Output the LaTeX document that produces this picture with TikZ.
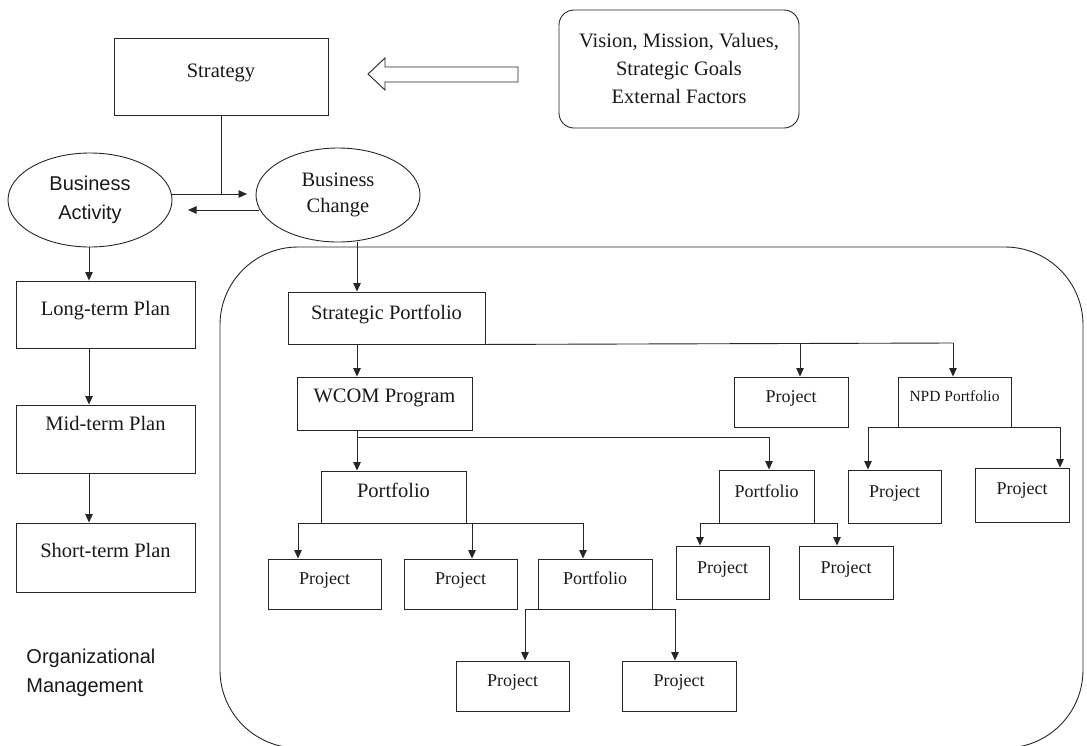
\documentclass[tikz,border=0pt]{standalone}
\usepackage{fontspec}
\setmainfont{Liberation Serif}
\newfontfamily\sansf{Liberation Sans}
\usetikzlibrary{arrows.meta,shapes.geometric,calc}
\newcommand\mkbox[8]{%
  \node[box, minimum width={#4-#2}, minimum height={#5-#3}] (#1) at ({(#2+#4)/2},{(#3+#5)/2}) {};
  \node[#7, anchor=base] (#1-t) at ({(#2+#4)/2},#6) {#8};}
\begin{document}
\begin{tikzpicture}[x=1pt,y=-1pt, line width=0.9pt, draw=black!85,
  box/.style={draw=black!85, rectangle, inner sep=0pt},
  txt/.style={inner sep=0pt, text=black!90, font=\fontsize{20.5}{24}\selectfont},
  ptxt/.style={inner sep=0pt, text=black!90, font=\fontsize{18}{22}\selectfont},
  ntxt/.style={inner sep=0pt, text=black!90, font=\fontsize{15.5}{18}\selectfont},
  arr/.style={draw=black!85, -{Triangle[length=8.5pt,width=7.5pt]}},
  ln/.style={draw=black!85},
  ell/.style={draw=black!85, text=black!90, ellipse, inner sep=0pt, minimum width=164, minimum height=94, align=center}]
\useasboundingbox (0,0) rectangle (1087,745);

% container
\draw[ln, rounded corners=78] (220,247) rectangle (1083,748);

% top
\mkbox{strat}{114}{38}{328}{115}{77}{txt}{Strategy}
\node[draw=black!85, rounded corners=15, minimum width=240, minimum height=118, inner sep=0pt] (vis) at (679,69) {};
\node[txt, align=center, font=\fontsize{20.5}{28}\selectfont] (vis-t) at (679,68) {Vision, Mission, Values,\\Strategic Goals\\External Factors};
\draw[ln] (368,74) -- (385,58) -- (385,67) -- (518,67) -- (518,82) -- (385,82) -- (385,90) -- cycle;

% ellipses
\node[ell, font=\sansf\fontsize{20}{29}\selectfont] (ba) at (90,200) {Business\\Activity};
\node[ell, font=\fontsize{20.5}{26}\selectfont] (bc) at (338,195) {Business\\Change};

\coordinate (bcin) at (247,194);
\coordinate (bain) at (188,210);
\draw[ln] (strat.south) -- (strat.south |- bcin);
\draw[arr] ($(ba.east)+(0,-6)$) -- (bcin);
\draw[arr] ($(bc.west)+(3,15)$) -- (bain);

% left column
\mkbox{lt}{16}{281}{195}{348}{315}{txt}{Long-term Plan}
\mkbox{mt}{16}{405}{195}{473}{430}{txt}{Mid-term Plan}
\mkbox{st}{16}{523}{195}{592}{557}{txt}{Short-term Plan}
\coordinate (lx) at (89,0);
\draw[arr] (lx |- ba.south) -- (lx |- lt.north);
\draw[arr] (lx |- lt.south) -- (lx |- mt.north);
\draw[arr] (lx |- mt.south) -- (lx |- st.north);
\node[inner sep=0pt, anchor=west, align=left, text=black!90, font=\sansf\fontsize{20}{29}\selectfont] (org) at (26,673) {Organizational\\Management};

% right structure
\mkbox{sp}{288}{292}{485}{344}{319}{txt}{Strategic Portfolio}
\mkbox{wc}{297}{377}{472}{430}{402}{txt}{WCOM Program}
\mkbox{pj1}{734}{377}{848}{427}{402}{ptxt}{Project}
\mkbox{npd}{898}{377}{1011}{427}{401.5}{ntxt}{NPD Portfolio}
\mkbox{npj1}{848}{470}{941}{523}{497}{ptxt}{Project}
\mkbox{npj2}{975}{468}{1069}{522}{494}{ptxt}{Project}
\mkbox{pf1}{321}{471}{466}{523}{497}{txt}{Portfolio}
\mkbox{pf2}{719}{470}{814}{523}{497}{ptxt}{Portfolio}
\mkbox{p1}{268}{559}{381}{609}{584}{ptxt}{Project}
\mkbox{p2}{404}{559}{517}{609}{584}{ptxt}{Project}
\mkbox{pf3}{538}{559}{652}{609}{584}{ptxt}{Portfolio}
\mkbox{p4}{456}{661}{569}{711}{686}{ptxt}{Project}
\mkbox{p5}{622}{661}{736}{711}{686}{ptxt}{Project}
\mkbox{p6}{676}{546}{769}{599}{573}{ptxt}{Project}
\mkbox{p7}{799}{546}{893}{599}{573}{ptxt}{Project}

\coordinate (cx) at (357,0);
\draw[arr] (cx |- bc.south) -- (cx |- sp.north);
\draw[arr] (cx |- sp.south) -- (cx |- wc.north);

% strategic portfolio branches
\coordinate (s1) at (800,343);
\coordinate (s2) at (953,343);
\draw[ln] (sp.south east) -- (s2);
\draw[arr] (s1) -- (s1 |- pj1.north);
\draw[arr] (s2) -- (s2 |- npd.north);

% NPD branches
\coordinate (n1) at (868,427);
\coordinate (n2) at (1060,427);
\draw[ln] (n1) -- (n2);
\draw[arr] (n1) -- (n1 |- npj1.north);
\draw[arr] (n2) -- (n2 |- npj2.north);

% WCOM branches
\coordinate (w2) at (769,437);
\draw[arr] (cx |- wc.south) -- (cx |- pf1.north);
\draw[ln] (cx |- w2) -- (w2);
\draw[arr] (w2) -- (w2 |- pf2.north);

% pf1 branches
\coordinate (a1) at (298,523);
\coordinate (a2) at (472,523);
\coordinate (a3) at (583,523);
\draw[ln] (a1) -- (a3);
\draw[arr] (a1) -- (a1 |- p1.north);
\draw[arr] (a2) -- (a2 |- p2.north);
\draw[arr] (a3) -- (a3 |- pf3.north);

% pf3 branches
\coordinate (c1) at (525,609);
\coordinate (c2) at (675,609);
\draw[ln] (c1) -- (c2);
\draw[arr] (c1) -- (c1 |- p4.north);
\draw[arr] (c2) -- (c2 |- p5.north);

% pf2 branches
\coordinate (d1) at (700,523);
\coordinate (d2) at (837,523);
\draw[ln] (d1) -- (d2);
\draw[arr] (d1) -- (d1 |- p6.north);
\draw[arr] (d2) -- (d2 |- p7.north);
\end{tikzpicture}
\end{document}
